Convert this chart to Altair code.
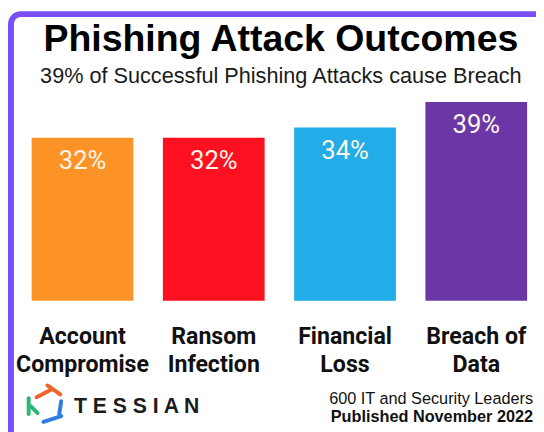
import altair as alt
import pandas as pd

# ---- data ----
categories = ["Account Compromise", "Ransom Infection", "Financial Loss", "Breach of Data"]
label_lines = ["Account\nCompromise", "Ransom\nInfection", "Financial\nLoss", "Breach of\nData"]
values = [32, 32, 34, 39]
colors = ["#fd9226", "#fd1020", "#22ade9", "#6b36a6"]

title_text = "Phishing Attack Outcomes"
subtitle_text = "39% of Successful Phishing Attacks cause Breach"
footer_lines = ["600 IT and Security Leaders", "Published November 2022"]
brand = "T E S S I A N"

df = pd.DataFrame({
    "category": categories,
    "label": label_lines,
    "value": values,
    "pct": [f"{v}%" for v in values],
})

W, H = 503, 207
SANS = "Liberation Sans, Arial, sans-serif"
NARROW = "Roboto, Liberation Sans, sans-serif"

x = alt.X("category:N", sort=categories, axis=None,
          scale=alt.Scale(paddingInner=0.225, paddingOuter=0))
y = alt.Y("value:Q", axis=None, scale=alt.Scale(domain=[0, 40]))
color = alt.Color("category:N", scale=alt.Scale(domain=categories, range=colors), legend=None)

base = alt.Chart(df)

bars = base.mark_bar().encode(x=x, y=y, color=color)

pct = base.mark_text(baseline="alphabetic", dy=32, fontSize=26, font=NARROW,
                     color="#fff6ea").encode(x=x, y=y, text="pct:N")

cats = base.mark_text(baseline="alphabetic", lineBreak="\n", lineHeight=28,
                      fontSize=23.5, fontWeight="bold", font=NARROW,
                      color="#111111").encode(x=x, y=alt.value(251), text="label:N")

one = pd.DataFrame({"t": [0]})

title = alt.Chart(one).mark_text(text=title_text, fontSize=38, fontWeight="bold",
                                 font=SANS, color="#000000", baseline="alphabetic",
                                 align="center").encode(x=alt.value(253), y=alt.value(-47))
subtitle = alt.Chart(one).mark_text(text=subtitle_text, fontSize=22, font=SANS,
                                    color="#1a1a1a", baseline="alphabetic",
                                    align="center").encode(x=alt.value(253), y=alt.value(-14))

foot1 = alt.Chart(one).mark_text(text=footer_lines[0], fontSize=16.5, font=SANS,
                                 color="#111111", baseline="alphabetic",
                                 align="right").encode(x=alt.value(509), y=alt.value(312))
foot2 = alt.Chart(one).mark_text(text=footer_lines[1], fontSize=16.5, font=SANS,
                                 fontWeight="bold", color="#111111", baseline="alphabetic",
                                 align="right").encode(x=alt.value(509), y=alt.value(330))

brand_txt = alt.Chart(one).mark_text(text=brand, fontSize=21.5, font=SANS, fontWeight="bold",
                                     color="#1c1c1c", baseline="alphabetic",
                                     align="left").encode(x=alt.value(43), y=alt.value(321))

# decorative logo strokes (page coords minus plot origin 32,95)
def seg(x1, y1, x2, y2, c):
    return alt.Chart(one).mark_rule(strokeWidth=4, strokeCap="round", color=c).encode(
        x=alt.value(x1 - 32), y=alt.value(y1 - 95), x2=alt.value(x2 - 32), y2=alt.value(y2 - 95))

logo = [
    seg(37, 400, 52, 392, "#f0632a"),
    seg(48, 388, 61, 397, "#f0632a"),
    seg(29, 401, 29, 417, "#2bb673"),
    seg(31, 409, 38, 416, "#2bb673"),
    seg(62, 404, 60, 417, "#2d7fe0"),
    seg(44, 425, 62, 419, "#2d7fe0"),
]

border = alt.Chart(one).mark_rect(fill=None, fillOpacity=0, stroke="#7a50f5", strokeWidth=6,
                                  cornerRadius=10).encode(
    x=alt.value(-21), y=alt.value(-84), x2=alt.value(700), y2=alt.value(700))

chart = alt.layer(border, bars, pct, cats, title, subtitle, foot1, foot2, brand_txt, *logo).properties(
    width=W, height=H,
    autosize=alt.AutoSizeParams(type="none"),
    padding={"left": 24, "top": 87, "right": 9, "bottom": 130},
    background="white",
).configure_view(stroke=None)

chart.save("out.html", embed_options={"renderer": "svg", "actions": False})
